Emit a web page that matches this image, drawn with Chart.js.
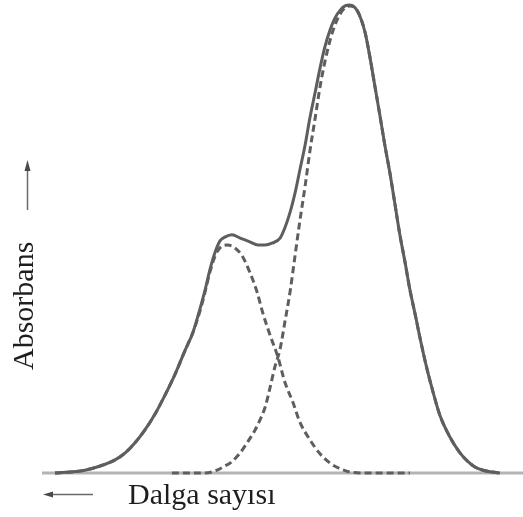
<!DOCTYPE html>
<html>
<head>
<meta charset="utf-8">
<script src="https://cdn.jsdelivr.net/npm/chart.js@4"></script>
<style>
  html, body { margin: 0; padding: 0; background: #fff; }
  #wrap { width: 523px; height: 517px; }
</style>
</head>
<body>
<div id="wrap"><canvas id="spectrum"></canvas></div>
<script>
// band envelope (x = relative wavenumber 0..100, y = absorbance, normalised)
const envelopeX = [2.7, 5.8, 8.9, 12.1, 15.2, 17.3, 19.3, 21.4, 23.5, 25.6, 27.7, 29.7, 31.4, 32.9, 33.9, 34.9, 36.0, 37.0, 38.0, 39.5, 41.2, 43.2, 44.9, 46.4, 47.8, 49.5, 50.5, 51.6, 52.6, 53.6, 54.7, 55.7, 56.8, 57.8, 58.8, 59.9, 60.9, 62.0, 63.0, 64.0, 65.1, 66.1, 67.2, 68.2, 69.2, 70.3, 71.3, 72.4, 73.4, 74.4, 75.5, 76.5, 77.6, 78.6, 80.0, 81.3, 82.7, 84.8, 86.9, 88.4, 90.0, 91.7, 93.6, 95.2]
const envelopeY = [0, 0.002, 0.006, 0.015, 0.028, 0.043, 0.064, 0.092, 0.126, 0.167, 0.212, 0.261, 0.301, 0.353, 0.391, 0.434, 0.472, 0.496, 0.504, 0.509, 0.502, 0.494, 0.487, 0.487, 0.491, 0.502, 0.524, 0.558, 0.598, 0.647, 0.701, 0.759, 0.814, 0.865, 0.910, 0.947, 0.972, 0.989, 0.998, 1.0, 0.994, 0.976, 0.940, 0.887, 0.827, 0.761, 0.699, 0.637, 0.573, 0.509, 0.449, 0.391, 0.338, 0.288, 0.224, 0.173, 0.124, 0.077, 0.043, 0.026, 0.013, 0.006, 0.002, 0]

// first component (shoulder)
const band1X = [2.7, 5.8, 8.9, 12.1, 15.2, 17.3, 19.3, 21.4, 23.5, 25.6, 27.7, 29.7, 31.4, 32.9, 33.9, 34.9, 36.0, 37.0, 38.5, 40.1, 41.6, 43.2, 44.7, 45.9, 47.4, 49.1, 50.5, 52.2, 53.6, 55.7, 57.8, 59.9, 62.0, 64.0, 67.2, 76.5]
const band1Y = [0, 0.002, 0.006, 0.015, 0.028, 0.043, 0.064, 0.092, 0.126, 0.167, 0.212, 0.261, 0.301, 0.348, 0.387, 0.429, 0.464, 0.481, 0.487, 0.481, 0.464, 0.429, 0.387, 0.342, 0.295, 0.246, 0.194, 0.150, 0.109, 0.071, 0.041, 0.021, 0.009, 0.002, 0, 0]

// second component (main band)
const band2X = [27.0, 33.9, 36.4, 38.0, 39.1, 41.2, 42.6, 44.3, 45.3, 46.4, 47.4, 48.4, 49.5, 50.5, 51.6, 52.6, 53.6, 54.7, 55.7, 56.8, 57.8, 58.8, 59.9, 60.9, 62.0, 63.0, 64.0, 65.1, 66.1, 67.2, 68.2, 69.2, 70.3, 71.3, 72.4, 73.4, 74.4, 75.5, 76.5, 77.6, 78.6, 80.0, 81.3, 82.7, 84.8, 86.9, 88.4, 90.0, 91.7, 93.6, 95.2]
const band2Y = [0, 0, 0.006, 0.015, 0.021, 0.043, 0.064, 0.092, 0.113, 0.141, 0.182, 0.226, 0.265, 0.323, 0.389, 0.464, 0.538, 0.613, 0.688, 0.759, 0.825, 0.878, 0.925, 0.957, 0.981, 0.994, 0.998, 0.994, 0.976, 0.940, 0.887, 0.827, 0.761, 0.699, 0.637, 0.573, 0.509, 0.449, 0.391, 0.338, 0.288, 0.224, 0.173, 0.124, 0.077, 0.043, 0.026, 0.013, 0.006, 0.002, 0]

const baseX = [0, 100]
const baseY = [0, 0]

const xLabel = 'Dalga sayısı'
const yLabel = 'Absorbans'

const toPoints = (xs, ys) => xs.map((x, i) => ({ x: x, y: ys[i] }))

const lineGray = '#5e5e5e'

// axis captions with their little arrows
const captions = {
  id: 'captions',
  afterDraw(chart) {
    const ctx = chart.ctx
    ctx.save()
    ctx.fillStyle = '#1e1e1e'
    ctx.font = '30px "Liberation Serif", "Times New Roman", serif'
    ctx.textBaseline = 'alphabetic'
    ctx.textAlign = 'left'
    ctx.fillText(xLabel, 128, 504)

    ctx.translate(33, 370)
    ctx.rotate(-Math.PI / 2)
    ctx.fillText(yLabel, 0, 0)
    ctx.restore()

    ctx.save()
    ctx.strokeStyle = '#6a6a6a'
    ctx.fillStyle = '#4a4a4a'
    ctx.lineWidth = 1.5
    // up arrow
    ctx.beginPath()
    ctx.moveTo(27.5, 210)
    ctx.lineTo(27.5, 168)
    ctx.stroke()
    ctx.beginPath()
    ctx.moveTo(27.5, 160)
    ctx.lineTo(24.5, 171)
    ctx.lineTo(30.5, 171)
    ctx.closePath()
    ctx.fill()
    // left arrow
    ctx.beginPath()
    ctx.moveTo(93, 494.5)
    ctx.lineTo(50, 494.5)
    ctx.stroke()
    ctx.beginPath()
    ctx.moveTo(43, 494.5)
    ctx.lineTo(53, 491.5)
    ctx.lineTo(53, 497.5)
    ctx.closePath()
    ctx.fill()
    ctx.restore()
  }
}

const curve = (xs, ys, dash) => ({
  data: toPoints(xs, ys),
  borderColor: lineGray,
  borderWidth: 3,
  borderDash: dash,
  cubicInterpolationMode: 'monotone',
  pointRadius: 0,
  clip: false
})

new Chart(document.getElementById('spectrum'), {
  type: 'line',
  data: {
    datasets: [
      curve(envelopeX, envelopeY, []),
      curve(band1X, band1Y, [7, 4]),
      curve(band2X, band2Y, [7, 4]),
      {
        data: toPoints(baseX, baseY),
        borderColor: '#b4b4b4',
        borderWidth: 3,
        pointRadius: 0,
        clip: false
      }
    ]
  },
  options: {
    responsive: true,
    maintainAspectRatio: false,
    animation: false,
    layout: {
      padding: { left: 42, right: 0, top: 5, bottom: 44 }
    },
    plugins: {
      legend: { display: false },
      tooltip: { enabled: false }
    },
    scales: {
      x: { type: 'linear', min: 0, max: 100, display: false },
      y: { min: 0, max: 1, display: false }
    }
  },
  plugins: [captions]
})
</script>
</body>
</html>
